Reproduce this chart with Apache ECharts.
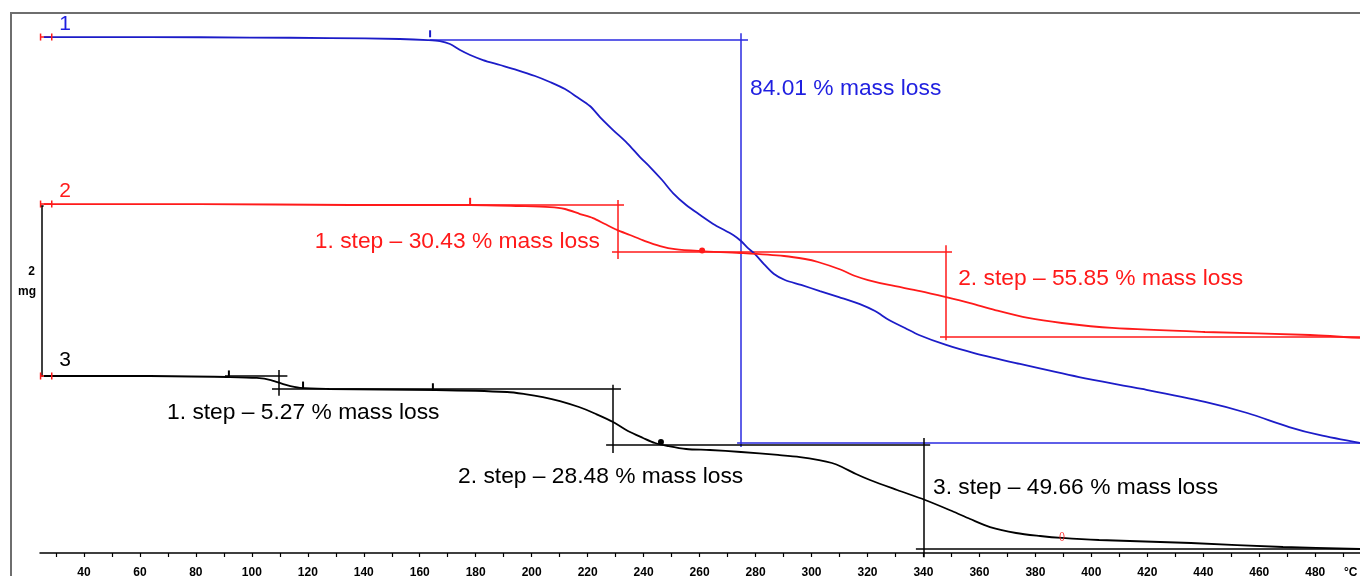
<!DOCTYPE html>
<html>
<head>
<meta charset="utf-8">
<script src="https://cdn.jsdelivr.net/npm/echarts@6/dist/echarts.min.js"></script>
<style>
  html, body { margin: 0; padding: 0; background: #fff; }
  #chart { width: 1360px; height: 576px; }
</style>
</head>
<body>
<div id="chart"></div>
<script>
// temperature in °C, mass in mg (curves are offset, 2 mg scale bar on the left)
var curve1 = [[25.7,6.037],[63.6,6.037],[99.3,6.031],[127.9,6.025],[152.9,6.014],[162.9,6.002],[167.2,5.990],
  [170.8,5.955],[174.4,5.885],[178.0,5.827],[182.6,5.768],[188.7,5.710],[194.8,5.651],[201.2,5.581],[206.5,5.511],
  [211.9,5.429],[216.2,5.335],[220.8,5.230],[224.4,5.101],[229.1,4.949],[234.1,4.797],[238.7,4.633],[242.3,4.516],
  [246.6,4.364],[250.5,4.212],[255.2,4.072],[260.2,3.955],[265.5,3.838],[272.0,3.721],[274.8,3.650],[277.3,3.568],
  [279.8,3.498],[283.0,3.381],[286.6,3.264],[290.5,3.194],[296.3,3.136],[303.0,3.065],[309.8,2.995],[317.3,2.913],
  [322.7,2.831],[327.7,2.726],[333.4,2.633],[338.4,2.551],[348.1,2.434],[358.1,2.340],[373.1,2.223],[395.6,2.059],
  [418.1,1.919],[440.6,1.767],[455.7,1.638],[470.7,1.474],[481.4,1.381],[496.0,1.287]];
var curve2 = [[25.7,4.083],[81.5,4.083],[135.1,4.072],[178.0,4.072],[195.8,4.060],[206.5,4.048],[211.9,4.025],
  [217.3,3.966],[221.9,3.919],[226.2,3.849],[230.5,3.781],[235.1,3.721],[240.5,3.650],[245.9,3.592],[251.2,3.556],
  [260.2,3.533],[274.5,3.510],[290.2,3.475],[297.7,3.440],[302.3,3.405],[309.8,3.323],[315.6,3.241],[320.2,3.194],
  [327.7,3.136],[338.8,3.065],[348.1,2.995],[356.7,2.925],[365.6,2.843],[377.4,2.750],[389.5,2.691],[407.4,2.633],
  [440.6,2.586],[478.2,2.551],[496.0,2.516]];
var curve3 = [[25.7,2.071],[63.6,2.071],[91.8,2.059],[101.8,2.048],[106.8,2.024],[112.2,1.966],[117.2,1.931],
  [127.6,1.919],[165.8,1.907],[191.2,1.884],[197.6,1.860],[204.0,1.825],[210.1,1.778],[216.9,1.708],[223.0,1.626],
  [229.1,1.533],[234.4,1.427],[239.8,1.346],[244.1,1.287],[248.7,1.252],[255.2,1.217],[263.7,1.205],[274.8,1.182],
  [288.0,1.147],[295.9,1.123],[302.7,1.088],[307.3,1.053],[310.9,1.006],[315.9,0.924],[320.9,0.854],[330.6,0.737],
  [340.6,0.620],[350.2,0.491],[356.7,0.398],[363.8,0.304],[373.1,0.234],[381.7,0.199],[389.5,0.176],[402.8,0.152],
  [435.6,0.117],[468.5,0.070],[496.0,0.047]];

var xTicks = [30,40,50,60,70,80,90,100,110,120,130,140,150,160,170,180,190,200,210,220,230,240,250,260,270,280,
  290,300,310,320,330,340,350,360,370,380,390,400,410,420,430,440,450,460,470,480,490];
var xTickLabels = [40,60,80,100,120,140,160,180,200,220,240,260,280,300,320,340,360,380,400,420,440,460,480];

// evaluation lines (tangent / step brackets)
var bracket1 = [[[163.7,6.00],[277.3,6.00]], [[274.8,6.08],[274.8,1.24]], [[273.4,1.287],[496,1.287]]];
var bracket2 = [[[150,4.07],[233.0,4.07]], [[230.9,4.13],[230.9,3.44]], [[228.7,3.52],[350.2,3.52]],
  [[348.1,3.60],[348.1,2.49]], [[345.9,2.527],[496,2.527]]];
var bracket3 = [[[90.4,2.07],[112.7,2.07]], [[109.7,2.14],[109.7,1.84]], [[107.2,1.92],[231.9,1.92]],
  [[229.1,1.97],[229.1,1.17]], [[226.6,1.264],[342.4,1.264]], [[340.2,1.345],[340.2,-0.05]],
  [[337.3,0.047],[496,0.047]]];
var scaleBar = [[[25.0,4.06],[25.0,2.07]], [[24.4,4.06],[25.6,4.06]], [[24.4,2.07],[25.6,2.07]]];

var labels1 = [{value:[278.0,5.43], name:'84.01 % mass loss', align:'left'}];
var labels2 = [{value:[224.4,3.64], name:'1. step \u2013 30.43 % mass loss', align:'right'},
  {value:[352.4,3.206], name:'2. step \u2013 55.85 % mass loss', align:'left'}];
var labels3 = [{value:[69.7,1.638], name:'1. step \u2013 5.27 % mass loss', align:'left'},
  {value:[173.7,0.889], name:'2. step \u2013 28.48 % mass loss', align:'left'},
  {value:[343.4,0.76], name:'3. step \u2013 49.66 % mass loss', align:'left'}];
var curveNames = [{value:[33.3,6.19], name:'1', color:'#1f1fe0'}, {value:[33.3,4.23], name:'2', color:'#ff1a1a'},
  {value:[33.3,2.25], name:'3', color:'#000'}];

var tickMarks1 = [[163.7,6.04]];
var tickMarks2 = [[178.0,4.08]];
var tickMarks3 = [[91.8,2.06],[118.3,1.93],[164.7,1.91]];
var dots = [{value:[260.9,3.54], color:'#ff1a1a'}, {value:[246.2,1.30], color:'#000'}];
var startMarks = [6.037, 4.083, 2.071];

var BLUE = '#1c1cc8', BLUE2 = '#2a2ae0', RED = '#ff1a1a', BLACK = '#000';
var FONT = 'Liberation Sans, Arial, sans-serif';

function segs(list, color) {
  return {
    type: 'lines', coordinateSystem: 'cartesian2d', polyline: false, silent: true,
    lineStyle: { color: color, width: 1.5, opacity: 1 }, clip: false, z: 3,
    data: list.map(function (s) { return { coords: s }; })
  };
}
function curve(data, color) {
  return { type: 'line', data: data, showSymbol: false, smooth: 0.3, clip: false, z: 4,
    lineStyle: { color: color, width: 1.8 } };
}
function texts(list, color, size) {
  return {
    type: 'scatter', symbolSize: 0, silent: true, clip: false, z: 6,
    itemStyle: { opacity: 1 },
    data: list.map(function (d) {
      return { value: d.value, name: d.name,
        label: { align: d.align || 'center', color: d.color || color } };
    }),
    label: { show: true, position: 'inside', formatter: '{b}', fontSize: size, fontFamily: FONT,
      color: color, verticalAlign: 'middle', opacity: 1 }
  };
}
function ticks(data, color) {
  return { type: 'scatter', data: data, symbol: 'rect', symbolSize: [2, 7], symbolOffset: [0, -3],
    itemStyle: { color: color, opacity: 1 }, silent: true, z: 5 };
}

var startSegs = startMarks.map(function (v) { return [[24.4, v], [28.6, v]]; });
var startTicks = [];
startMarks.forEach(function (v) { startTicks.push([24.5, v], [28.5, v]); });

var chart = echarts.init(document.getElementById('chart'));
chart.setOption({
  animation: false,
  backgroundColor: '#fff',
  grid: { left: 40, right: 0, top: 12, bottom: 23, outerBoundsMode: 'none', containLabel: false },
  xAxis: {
    type: 'value', min: 24.3, max: 496,
    axisLine: { show: true, lineStyle: { color: '#000', width: 1.5 } },
    axisTick: { show: true, customValues: xTicks, length: 4, lineStyle: { color: '#000', width: 1.2 } },
    axisLabel: { customValues: xTickLabels, fontSize: 12, fontWeight: 'bold', color: '#000',
      fontFamily: FONT, margin: 14 },
    splitLine: { show: false }
  },
  yAxis: { type: 'value', min: 0, max: 6.33, show: false },
  graphic: [
    { type: 'polyline', shape: { points: [[11, 576], [11, 13], [1360, 13]] },
      style: { stroke: '#6e6e6e', lineWidth: 2, fill: null }, z: 1 },
    { type: 'text', x: 35, y: 266, style: { text: '2', font: 'bold 12px ' + FONT, fill: '#000', textAlign: 'right' } },
    { type: 'text', x: 36, y: 286, style: { text: 'mg', font: 'bold 12px ' + FONT, fill: '#000', textAlign: 'right' } },
    { type: 'text', x: 1344, y: 567, style: { text: '\u00b0C', font: 'bold 12px ' + FONT, fill: '#000' } }
  ],
  series: [
    segs(bracket1, BLUE2),
    segs(bracket2, RED),
    segs(bracket3, BLACK),
    segs(scaleBar, BLACK),
    segs(startSegs, RED),
    { type: 'scatter', data: startTicks, symbol: 'rect', symbolSize: [1.5, 7], itemStyle: { color: RED, opacity: 1 },
      silent: true, clip: false, z: 5 },
    curve(curve1, BLUE),
    curve(curve2, RED),
    curve(curve3, BLACK),
    ticks(tickMarks1, BLUE),
    ticks(tickMarks2, RED),
    ticks(tickMarks3, BLACK),
    { type: 'scatter', symbol: 'circle', symbolSize: 6, silent: true, z: 6,
      data: dots.map(function (d) { return { value: d.value, itemStyle: { color: d.color, opacity: 1 } }; }) },
    texts([{ value: [389.5, 0.19], name: '()' }], RED, 9),
    texts(labels1, '#1f1fe0', 22.8),
    texts(labels2, RED, 22.8),
    texts(labels3, BLACK, 22.8),
    texts(curveNames, BLACK, 21)
  ]
});
</script>
</body>
</html>
